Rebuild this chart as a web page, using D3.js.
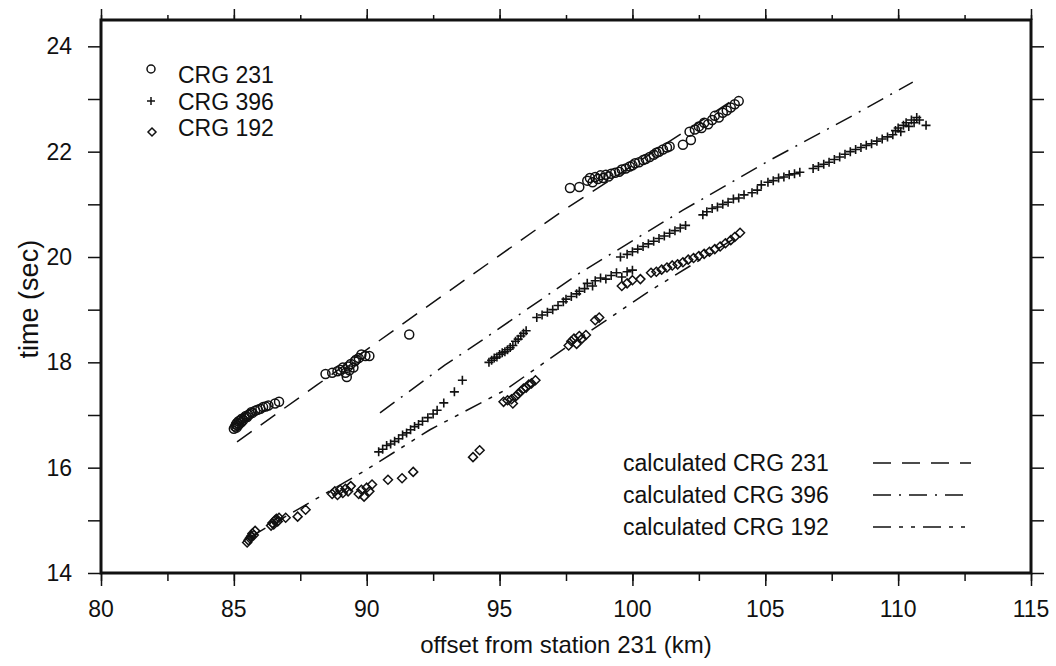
<!DOCTYPE html>
<html>
<head>
<meta charset="utf-8">
<script src="https://cdnjs.cloudflare.com/ajax/libs/d3/7.8.5/d3.min.js"></script>
<style>
  body { margin: 0; background: #fff; }
  text { font-family: "Liberation Sans", Arial, Helvetica, sans-serif; fill: #111; }
</style>
</head>
<body>
<div id="chart"></div>
<script>
// observed picks [offset km, time sec]
const crg231 = [
  [85.0,16.74],[85.05,16.78],[85.08,16.82],[85.1,16.76],[85.12,16.85],[85.15,16.8],[85.18,16.88],[85.2,16.83],
  [85.25,16.9],[85.28,16.86],[85.3,16.93],[85.35,16.9],[85.4,16.95],[85.45,16.98],[85.5,16.96],[85.55,17.0],
  [85.6,17.02],[85.65,17.05],[85.7,17.04],[85.8,17.08],[85.9,17.1],[86.0,17.12],[86.1,17.15],[86.2,17.16],
  [86.3,17.18],[86.55,17.22],[86.7,17.25],
  [88.45,17.78],[88.7,17.8],[88.9,17.83],[89.0,17.86],[89.1,17.9],[89.2,17.8],[89.25,17.72],[89.3,17.92],
  [89.35,17.85],[89.4,17.97],[89.5,17.9],[89.55,18.02],[89.6,18.05],[89.7,18.08],[89.8,18.15],[89.95,18.12],[90.1,18.12],
  [91.6,18.53],
  [97.65,21.31],[98.0,21.33],[98.3,21.45],[98.4,21.5],[98.5,21.42],[98.6,21.52],[98.7,21.48],[98.8,21.55],
  [98.9,21.5],[99.0,21.56],[99.1,21.53],[99.2,21.58],[99.35,21.6],[99.5,21.62],[99.6,21.66],[99.75,21.68],
  [99.9,21.72],[100.0,21.74],[100.1,21.78],[100.25,21.8],[100.4,21.84],[100.5,21.86],[100.65,21.9],[100.8,21.94],
  [100.9,21.98],[101.0,22.0],[101.15,22.04],[101.3,22.08],[101.4,22.1],[101.9,22.13],[102.2,22.22],[102.15,22.38],
  [102.35,22.42],[102.5,22.48],[102.6,22.45],[102.7,22.55],[102.85,22.52],[103.0,22.6],[103.1,22.68],[103.25,22.65],
  [103.4,22.74],[103.55,22.78],[103.7,22.84],[103.85,22.9],[104.0,22.96]
];

const crg396 = [
  [90.45,16.3],[90.6,16.35],[90.75,16.42],[90.9,16.45],[91.05,16.5],[91.2,16.55],[91.35,16.62],[91.5,16.66],
  [91.65,16.72],[91.8,16.78],[91.95,16.82],[92.1,16.88],[92.3,16.95],[92.5,17.02],[92.65,17.09],[92.9,17.23],
  [93.3,17.44],[93.6,17.66],
  [94.6,18.0],[94.7,18.04],[94.8,18.08],[94.9,18.1],[95.0,18.15],[95.1,18.18],[95.2,18.2],[95.3,18.24],
  [95.4,18.28],[95.5,18.32],[95.6,18.4],[95.7,18.44],[95.8,18.5],[95.9,18.55],[96.0,18.6],
  [96.4,18.85],[96.6,18.9],[96.8,18.95],[97.0,19.0],[97.2,19.08],[97.4,19.15],[97.5,19.2],[97.7,19.25],
  [97.9,19.3],[98.0,19.35],[98.2,19.4],[98.3,19.5],[98.5,19.45],[98.6,19.55],[98.8,19.6],[99.0,19.58],
  [99.2,19.65],[99.4,19.7],[99.6,19.62],[99.8,19.72],[100.0,19.75],
  [99.55,20.0],[99.8,20.05],[100.0,20.1],[100.2,20.15],[100.4,20.2],[100.6,20.25],[100.8,20.3],[101.0,20.35],
  [101.2,20.4],[101.4,20.45],[101.6,20.5],[101.8,20.55],[102.0,20.6],
  [102.65,20.8],[102.8,20.86],[103.0,20.92],[103.2,20.95],[103.4,21.0],[103.6,21.04],[103.8,21.1],[104.0,21.12],
  [104.2,21.18],[104.5,21.22],[104.7,21.27],
  [104.85,21.37],[105.1,21.42],[105.3,21.45],[105.5,21.5],[105.7,21.52],[105.9,21.56],[106.1,21.58],[106.3,21.61],
  [106.8,21.68],[107.0,21.72],[107.2,21.76],[107.4,21.8],[107.6,21.85],[107.8,21.9],[108.0,21.95],
  [108.2,22.0],[108.4,22.04],[108.6,22.08],[108.8,22.12],[109.0,22.15],[109.2,22.2],[109.4,22.24],[109.6,22.28],
  [109.8,22.32],[109.9,22.4],[110.0,22.45],[110.1,22.38],[110.2,22.5],[110.3,22.55],[110.4,22.48],[110.5,22.6],
  [110.6,22.55],[110.7,22.65],[110.8,22.6],[111.05,22.5]
];

const crg192 = [
  [85.5,14.58],[85.55,14.62],[85.6,14.66],[85.65,14.7],[85.7,14.75],[85.75,14.72],[85.8,14.8],
  [86.4,14.9],[86.45,14.95],[86.5,14.92],[86.55,15.0],[86.6,15.03],[86.65,14.98],[86.7,15.05],
  [86.95,15.05],[87.4,15.07],[87.7,15.2],
  [88.7,15.5],[88.8,15.55],[88.9,15.48],[89.0,15.58],[89.1,15.52],[89.2,15.6],[89.3,15.55],[89.4,15.65],
  [89.7,15.5],[89.8,15.58],[89.9,15.45],[90.0,15.62],[90.1,15.55],[90.2,15.68],
  [90.8,15.77],[91.33,15.8],[91.75,15.92],
  [94.0,16.2],[94.25,16.33],
  [95.15,17.25],[95.3,17.28],[95.45,17.3],[95.5,17.22],[95.6,17.35],[95.7,17.4],[95.8,17.45],[95.9,17.5],
  [96.0,17.52],[96.1,17.58],[96.2,17.6],[96.35,17.66],
  [97.6,18.32],[97.7,18.4],[97.8,18.45],[97.9,18.35],[98.0,18.5],[98.1,18.45],[98.25,18.52],
  [98.6,18.8],[98.75,18.85],
  [99.6,19.45],[99.8,19.5],[100.0,19.56],[100.3,19.58],[100.7,19.7],[100.9,19.72],[101.1,19.76],[101.3,19.8],
  [101.5,19.84],[101.7,19.86],[101.9,19.9],[102.1,19.95],[102.3,19.98],[102.5,20.02],[102.7,20.06],[102.9,20.1],
  [103.1,20.15],[103.3,20.2],[103.5,20.26],[103.7,20.32],[103.85,20.38],[104.05,20.46]
];

// calculated travel-time curves
const calc231 = [[85.12,16.49],[88.13,17.57],[92.0,18.96],[97.27,20.84],[104.0,23.05]];
const calc396 = [[90.5,17.04],[92.95,17.95],[94.08,18.33],[98.03,19.7],[101.9,20.89],[105.18,21.84],[108.45,22.73],[110.55,23.32]];
const calc192 = [[85.6,14.68],[89.86,15.92],[92.38,16.72],[95.2,17.47],[97.46,18.27],[100.6,19.34],[104.0,20.4]];

const xTicks = [80, 85, 90, 95, 100, 105, 110, 115];
const yTicks = [14, 16, 18, 20, 22, 24];
const symLabels = ["CRG 231", "CRG 396", "CRG 192"];
const lineLabels = ["calculated CRG 231", "calculated CRG 396", "calculated CRG 192"];

const margin = { top: 20, right: 25, bottom: 93, left: 101 };
const width = 1056 - margin.left - margin.right;
const height = 666 - margin.top - margin.bottom;

const svg = d3.select("#chart").append("svg")
    .attr("width", 1056)
    .attr("height", 666)
  .append("g")
    .attr("transform", `translate(${margin.left},${margin.top})`);

const x = d3.scaleLinear().domain([80, 115]).range([0, width]);
const y = d3.scaleLinear().domain([14, 24.5]).range([height, 0]);

const dashes = ["18,11", "18,8,2,8", "18,8,4,8,4,8"];
const ink = "#111";

// ticks (major + minor)
const xMinor = d3.range(80, 115.1, 2.5);
const yMinor = d3.range(14, 24.1, 1);

function tickAxis(axis, ticks, size, cls) {
  const g = svg.append("g").attr("class", cls);
  g.call(axis.tickValues(ticks).tickSize(size).tickFormat(""));
  g.select(".domain").remove();
  g.selectAll("line").attr("stroke", ink).attr("stroke-width", 1.5);
  return g;
}

tickAxis(d3.axisBottom(x), xMinor, 8, "xminor").attr("transform", `translate(0,${height})`);
tickAxis(d3.axisBottom(x), xTicks, 13, "xmajor").attr("transform", `translate(0,${height})`);
tickAxis(d3.axisTop(x), xMinor, 5, "xtopminor");
tickAxis(d3.axisTop(x), xTicks, 11, "xtopmajor");
tickAxis(d3.axisLeft(y), yMinor, 13, "yminor");
tickAxis(d3.axisRight(y), yMinor, 13, "yright").attr("transform", `translate(${width},0)`);

// tick labels
svg.append("g").selectAll("text")
  .data(xTicks).enter().append("text")
    .attr("x", d => x(d))
    .attr("y", height + 44)
    .attr("text-anchor", "middle")
    .style("font-size", "23px")
    .text(d => d);

svg.append("g").selectAll("text")
  .data(yTicks).enter().append("text")
    .attr("x", -29)
    .attr("y", d => y(d) + 8)
    .attr("text-anchor", "end")
    .style("font-size", "23px")
    .text(d => d);

// axis titles
svg.append("text")
  .attr("x", width / 2)
  .attr("y", height + 80)
  .attr("text-anchor", "middle")
  .style("font-size", "24px")
  .text("offset from station 231 (km)");

svg.append("text")
  .attr("transform", "rotate(-90)")
  .attr("x", -(y(19.2)))
  .attr("y", -63)
  .attr("text-anchor", "middle")
  .style("font-size", "27px")
  .text("time (sec)");

// calculated curves
const line = d3.line().x(d => x(d[0])).y(d => y(d[1]));
[calc231, calc396, calc192].forEach((c, i) => {
  svg.append("path")
    .datum(c)
    .attr("fill", "none")
    .attr("stroke", ink)
    .attr("stroke-width", 1.5)
    .attr("stroke-dasharray", dashes[i])
    .attr("d", line);
});

// marker shapes
const plusPath = "M-4.5,0H4.5M0,-4.5V4.5";
const diamondPath = "M0,-4.5L4.5,0L0,4.5L-4.5,0Z";

svg.append("g").selectAll("circle")
  .data(crg231).enter().append("circle")
    .attr("cx", d => x(d[0]))
    .attr("cy", d => y(d[1]))
    .attr("r", 4.5)
    .attr("fill", "none")
    .attr("stroke", ink)
    .attr("stroke-width", 1.5);

svg.append("g").selectAll("path")
  .data(crg396).enter().append("path")
    .attr("transform", d => `translate(${x(d[0])},${y(d[1])})`)
    .attr("d", plusPath)
    .attr("stroke", ink)
    .attr("stroke-width", 1.6);

svg.append("g").selectAll("path")
  .data(crg192).enter().append("path")
    .attr("transform", d => `translate(${x(d[0])},${y(d[1])})`)
    .attr("d", diamondPath)
    .attr("fill", "none")
    .attr("stroke", ink)
    .attr("stroke-width", 1.5);

// frame
svg.append("rect")
  .attr("width", width)
  .attr("height", height)
  .attr("fill", "none")
  .attr("stroke", ink)
  .attr("stroke-width", 3);

// symbol legend (top left)
const symLeg = svg.append("g").attr("transform", "translate(50,0)");
const symY = [49, 81, 112];
const textY = [63, 90, 116];
symLeg.append("circle").attr("cx", 0).attr("cy", symY[0]).attr("r", 4)
  .attr("fill", "none").attr("stroke", ink).attr("stroke-width", 1.5);
symLeg.append("path").attr("transform", `translate(0,${symY[1]})`).attr("d", "M-4,0H4M0,-4V4")
  .attr("stroke", ink).attr("stroke-width", 1.5);
symLeg.append("path").attr("transform", `translate(1,${symY[2]})`).attr("d", "M0,-4L4,0L0,4L-4,0Z")
  .attr("fill", "none").attr("stroke", ink).attr("stroke-width", 1.5);
symLeg.selectAll("text")
  .data(symLabels).enter().append("text")
    .attr("x", 27)
    .attr("y", (d, i) => textY[i])
    .style("font-size", "23px")
    .text(d => d);

// line legend (bottom right)
const lineY = [443, 475, 507];
const lineLeg = svg.append("g");
lineLabels.forEach((d, i) => {
  lineLeg.append("text")
    .attr("x", 522)
    .attr("y", lineY[i] + 8)
    .style("font-size", "23px")
    .text(d);
  lineLeg.append("line")
    .attr("x1", 772).attr("x2", 870)
    .attr("y1", lineY[i]).attr("y2", lineY[i])
    .attr("stroke", ink)
    .attr("stroke-width", 1.5)
    .attr("stroke-dasharray", dashes[i]);
});
</script>
</body>
</html>
